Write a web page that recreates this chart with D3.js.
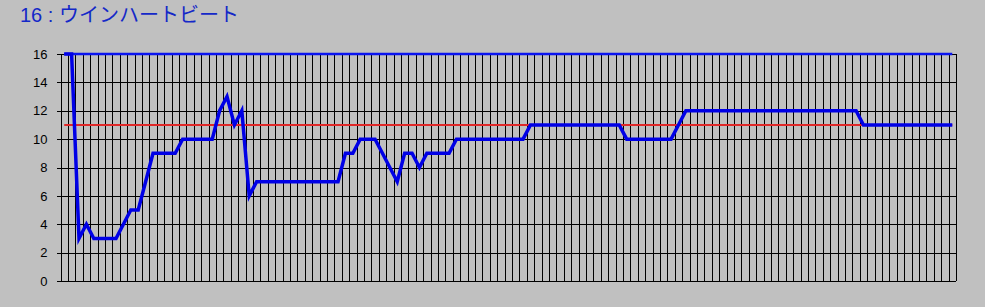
<!DOCTYPE html>
<html><head><meta charset="utf-8">
<script src="https://cdn.jsdelivr.net/npm/d3@7"></script>
<style>
html,body{margin:0;padding:0;background:#c0c0c0;}
svg{display:block;}
</style></head>
<body>
<svg id="c" width="985" height="307"></svg>
<script>
const title = "16 : ウインハートビート";
const yTicks = [0, 2, 4, 6, 8, 10, 12, 14, 16];
// main series (121 points)
const mainValues = [
 16, 16, 3, 4, 3, 3, 3, 3, 4, 5,
 5, 7, 9, 9, 9, 9, 10, 10, 10, 10,
 10, 12, 13, 11, 12, 6, 7, 7, 7, 7,
 7, 7, 7, 7, 7, 7, 7, 7, 9, 9,
 10, 10, 10, 9, 8, 7, 9, 9, 8, 9,
 9, 9, 9, 10, 10, 10, 10, 10, 10, 10,
 10, 10, 10, 11, 11, 11, 11, 11, 11, 11,
 11, 11, 11, 11, 11, 11, 10, 10, 10, 10,
 10, 10, 10, 11, 12, 12, 12, 12, 12, 12,
 12, 12, 12, 12, 12, 12, 12, 12, 12, 12,
 12, 12, 12, 12, 12, 12, 12, 12, 11, 11,
 11, 11, 11, 11, 11, 11, 11, 11, 11, 11,
 11
];
const topValue = 16;   // upper reference series
const refValue = 11;   // red reference series
const categories = d3.range(mainValues.length);

const svg = d3.select("#c");
const pL = 60.5, pR = 956, pT = 54, pB = 281;

const x = d3.scaleBand().domain(categories).range([pL, pR]).padding(0);
const y = d3.scaleLinear().domain([0, 16]).range([pB, pT]);
const cx = i => x(i) + x.bandwidth() / 2;

svg.append("text").attr("x", 20).attr("y", 22)
  .attr("font-family", "Liberation Sans, Arial, 'Noto Sans CJK JP', sans-serif")
  .attr("font-size", 20).attr("fill", "#1428c8").text(title);

const g = svg.append("g");
const bounds = categories.map(i => x(i)).concat([pR]);
g.selectAll("line.v").data(bounds).join("line")
  .attr("x1", d => Math.round(d) + 0.5).attr("x2", d => Math.round(d) + 0.5)
  .attr("y1", pT).attr("y2", pB)
  .attr("stroke", "#000").attr("stroke-width", 1).attr("shape-rendering", "crispEdges");
g.selectAll("line.h").data(yTicks).join("line")
  .attr("x1", pL).attr("x2", pR)
  .attr("y1", d => Math.round(y(d)) + 0.5).attr("y2", d => Math.round(y(d)) + 0.5)
  .attr("stroke", "#000").attr("stroke-width", 1).attr("shape-rendering", "crispEdges");

const axis = d3.axisLeft(y).tickValues(yTicks).tickSize(5).tickPadding(9).tickFormat(d3.format("d"));
const ag = svg.append("g").attr("transform", `translate(${Math.round(pL)+0.5},0)`).call(axis);
ag.select(".domain").remove();
ag.selectAll(".tick line").attr("stroke", "#000").attr("shape-rendering", "crispEdges");
ag.selectAll(".tick text").attr("font-family", "Liberation Sans, Arial, sans-serif")
  .attr("font-size", 13).attr("fill", "#000");

svg.append("clipPath").attr("id", "pc").append("rect")
  .attr("x", pL - 5).attr("y", pT - 2).attr("width", pR - pL + 10).attr("height", pB - pT + 4);

const line = d3.line().x((d, i) => cx(i)).y(d => y(d));
const lines = svg.append("g").attr("clip-path", "url(#pc)");
lines.append("path").datum(categories.map(() => refValue)).attr("d", line)
  .attr("fill", "none").attr("stroke", "#e02828").attr("stroke-width", 2);
lines.append("path").datum(categories.map(() => topValue)).attr("d", line)
  .attr("fill", "none").attr("stroke", "#0a14f0").attr("stroke-width", 2.5);
lines.append("path").datum(mainValues).attr("d", line)
  .attr("fill", "none").attr("stroke", "#0000e6").attr("stroke-width", 3.5)
  .attr("stroke-linejoin", "miter");
</script>
</body></html>
